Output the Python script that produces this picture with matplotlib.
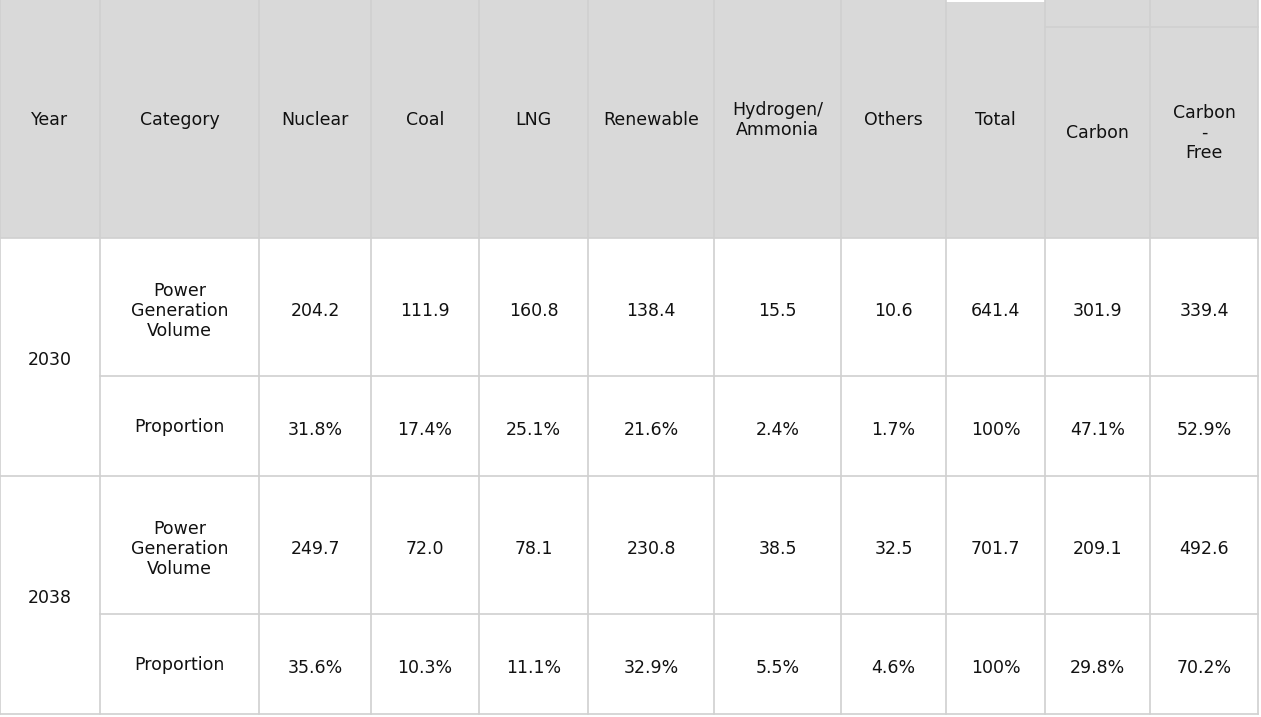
import matplotlib
matplotlib.use("Agg")
import matplotlib.pyplot as plt
from matplotlib.patches import Rectangle

headers = ["Year", "Category", "Nuclear", "Coal", "LNG", "Renewable", "Hydrogen/\nAmmonia",
           "Others", "Total", "Carbon", "Carbon\n-\nFree"]
years = ["2030", "2038"]
categories = ["Power\nGeneration\nVolume", "Proportion"]
vol_2030 = ["204.2", "111.9", "160.8", "138.4", "15.5", "10.6", "641.4", "301.9", "339.4"]
prop_2030 = ["31.8%", "17.4%", "25.1%", "21.6%", "2.4%", "1.7%", "100%", "47.1%", "52.9%"]
vol_2038 = ["249.7", "72.0", "78.1", "230.8", "38.5", "32.5", "701.7", "209.1", "492.6"]
prop_2038 = ["35.6%", "10.3%", "11.1%", "32.9%", "5.5%", "4.6%", "100%", "29.8%", "70.2%"]

xs = [0, 100, 259, 371, 479, 588, 714, 841, 946, 1045, 1150, 1258]
ys = [0, 238, 376, 476, 614, 714]

fig = plt.figure(figsize=(12.61, 7.17), dpi=100)
ax = fig.add_axes([0, 0, 1, 1])
ax.set_xlim(0, 1261)
ax.set_ylim(717, 0)
ax.axis("off")

lc = "#d0d0d0"
ax.add_patch(Rectangle((0, 0), 1258, 238, facecolor="#d9d9d9", edgecolor="none"))
ax.add_patch(Rectangle((946, 0), 99, 2, facecolor="white", edgecolor="none"))
fs = 12.5

def hline(y, x0, x1):
    ax.plot([x0, x1], [y, y], color=lc, lw=1.2)

def vline(x, y0, y1):
    ax.plot([x, x], [y0, y1], color=lc, lw=1.2)

for x in xs:
    vline(x, 0, 714)
hline(714, 0, 1258)
hline(238, 0, 1258)
hline(476, 0, 1258)
hline(376, 100, 1258)
hline(614, 100, 1258)
hline(27, 1045, 1258)

hy = [120, 120, 120, 120, 120, 120, 120, 120, 120, 133, 133]
for i, h in enumerate(headers):
    ax.text((xs[i] + xs[i + 1]) / 2, hy[i], h, ha="center", va="center", fontsize=fs,
            linespacing=1.15, color="#111111")

rows = [(vol_2030, 311, 0), (prop_2030, 430, 1), (vol_2038, 549, 0), (prop_2038, 668, 1)]
for vals, y, c in rows:
    ax.text((xs[1] + xs[2]) / 2, y - (3 if c else 0), categories[c], ha="center", va="center",
            fontsize=fs, linespacing=1.15, color="#111111")
    for j, v in enumerate(vals):
        ax.text((xs[j + 2] + xs[j + 3]) / 2, y, v, ha="center", va="center", fontsize=fs,
                color="#111111")

ax.text(50, 360, years[0], ha="center", va="center", fontsize=fs, color="#111111")
ax.text(50, 598, years[1], ha="center", va="center", fontsize=fs, color="#111111")

fig.savefig("out.png", dpi=100)
